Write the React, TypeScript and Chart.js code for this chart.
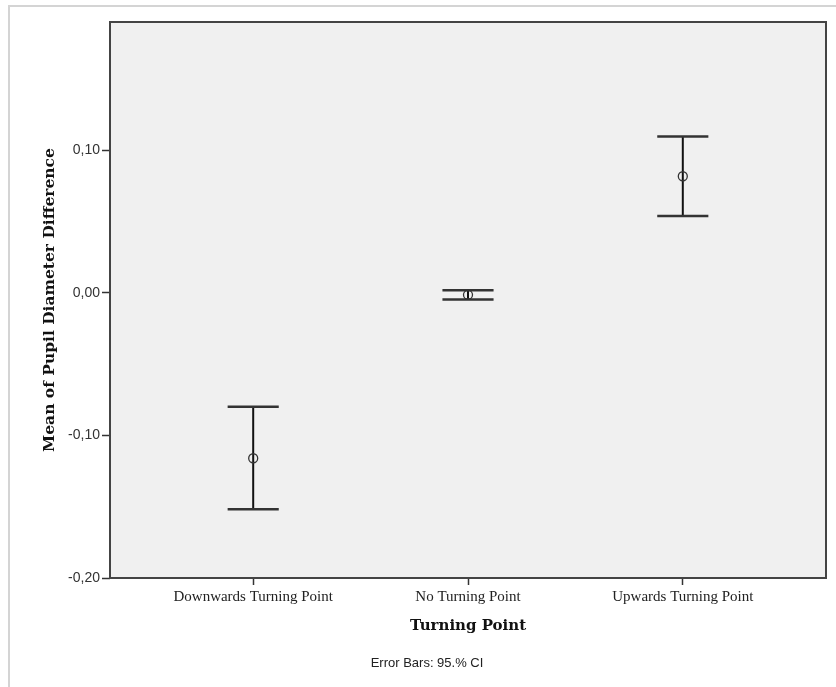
import React, { useEffect, useRef } from "react";
import { Chart, registerables } from "chart.js";

Chart.register(...registerables);

const categories = ["Downwards Turning Point", "No Turning Point", "Upwards Turning Point"];
const means = [-0.116, -0.0014, 0.0818];
const lowerCI = [-0.1518, -0.0046, 0.054];
const upperCI = [-0.0799, 0.0019, 0.1096];
const yTickValues = [-0.2, -0.1, 0, 0.1];
const xTickValues = [0, 1, 2];
const yMin = -0.2;
const yMax = 0.19;
const footnote = "Error Bars: 95.% CI";

const fmt = (v: number) => (Math.abs(v) < 1e-9 ? 0 : v).toFixed(2).replace(".", ",");

const framePlugin = {
  id: "spssFrame",
  beforeDraw(chart: any) {
    const { ctx, chartArea } = chart;
    ctx.save();
    ctx.fillStyle = "#ffffff";
    ctx.fillRect(0, 0, chart.width, chart.height);
    ctx.strokeStyle = "#d4d4d4";
    ctx.lineWidth = 2;
    ctx.beginPath();
    ctx.moveTo(9, chart.height);
    ctx.lineTo(9, 6);
    ctx.lineTo(chart.width, 6);
    ctx.stroke();
    ctx.fillStyle = "#f0f0f0";
    ctx.fillRect(chartArea.left, chartArea.top, chartArea.right - chartArea.left, chartArea.bottom - chartArea.top);
    ctx.restore();
  },
  beforeDatasetsDraw(chart: any) {
    const { ctx, scales } = chart;
    const xs = scales.x;
    const ys = scales.y;
    ctx.save();
    for (let i = 0; i < categories.length; i++) {
      const px = xs.getPixelForValue(i);
      const capHalf = xs.getPixelForValue(0.119) - xs.getPixelForValue(0);
      const yl = ys.getPixelForValue(lowerCI[i]);
      const yu = ys.getPixelForValue(upperCI[i]);
      ctx.strokeStyle = "#111111";
      ctx.lineWidth = 2;
      ctx.beginPath();
      ctx.moveTo(px, yl);
      ctx.lineTo(px, yu);
      ctx.stroke();
      ctx.strokeStyle = "#333333";
      ctx.lineWidth = 2.5;
      ctx.beginPath();
      ctx.moveTo(px - capHalf, yl);
      ctx.lineTo(px + capHalf, yl);
      ctx.moveTo(px - capHalf, yu);
      ctx.lineTo(px + capHalf, yu);
      ctx.stroke();
    }
    ctx.restore();
  },
  afterDraw(chart: any) {
    const { ctx, chartArea } = chart;
    ctx.save();
    ctx.strokeStyle = "#444444";
    ctx.lineWidth = 2;
    ctx.strokeRect(chartArea.left, chartArea.top, chartArea.right - chartArea.left, chartArea.bottom - chartArea.top);
    ctx.fillStyle = "#222222";
    ctx.font = "13px 'Liberation Sans', Arial, sans-serif";
    ctx.textAlign = "center";
    ctx.textBaseline = "middle";
    ctx.fillText(footnote, 427, 663);
    ctx.restore();
  },
};

export default function App() {
  const canvasRef = useRef<HTMLCanvasElement | null>(null);

  useEffect(() => {
    if (!canvasRef.current) return;
    const chart = new Chart(canvasRef.current, {
      type: "scatter",
      data: {
        datasets: [
          {
            label: "Mean",
            data: means.map((m, i) => ({ x: i, y: m })),
            pointRadius: 4.5,
            pointBorderWidth: 1.3,
            pointBorderColor: "#333333",
            pointBackgroundColor: "rgba(0,0,0,0)",
            showLine: false,
          },
        ],
      },
      options: {
        responsive: false,
        animation: false,
        devicePixelRatio: 1,
        layout: { padding: { top: 22, right: 10, bottom: 0, left: 0 } },
        plugins: {
          legend: { display: false },
          tooltip: { enabled: false },
        },
        scales: {
          x: {
            type: "linear",
            min: -2 / 3,
            max: 8 / 3,
            afterBuildTicks: (s: any) => {
              s.ticks = xTickValues.map((v) => ({ value: v }));
            },
            afterFit: (s: any) => {
              s.height = 109;
            },
            grid: { drawOnChartArea: false, drawTicks: true, tickLength: 7, tickColor: "#333333", tickWidth: 1.5 },
            border: { display: false },
            ticks: {
              padding: 3,
              color: "#222222",
              font: { family: "'Liberation Serif', 'Times New Roman', serif", size: 15 },
              callback: (v: any) => categories[Math.round(Number(v))] ?? "",
              maxRotation: 0,
              autoSkip: false,
            },
            title: {
              display: true,
              text: "Turning Point",
              color: "#111111",
              font: { family: "'DejaVu Serif', serif", size: 15, weight: "bold" },
              padding: { top: 0, bottom: 52 },
            },
          },
          y: {
            type: "linear",
            min: yMin,
            max: yMax,
            afterBuildTicks: (s: any) => {
              s.ticks = yTickValues.map((v) => ({ value: v }));
            },
            afterFit: (s: any) => {
              s.width = 110;
            },
            grid: { drawOnChartArea: false, drawTicks: true, tickLength: 8, tickColor: "#333333", tickWidth: 1.5 },
            border: { display: false },
            ticks: {
              padding: 2,
              color: "#333333",
              font: { family: "'Liberation Sans', Arial, sans-serif", size: 14 },
              callback: (v: any) => fmt(Number(v)),
            },
            title: {
              display: true,
              text: "Mean of Pupil Diameter Difference",
              color: "#111111",
              font: { family: "'DejaVu Serif', serif", size: 15.5, weight: "bold" },
              padding: { top: 41, bottom: 0 },
            },
          },
        },
      },
      plugins: [framePlugin],
    });
    return () => chart.destroy();
  }, []);

  return (
    <div style={{ position: "fixed", left: 0, top: 0, width: 836, height: 687, background: "#fff" }}>
      <canvas ref={canvasRef} width={836} height={687} style={{ display: "block" }} />
    </div>
  );
}
